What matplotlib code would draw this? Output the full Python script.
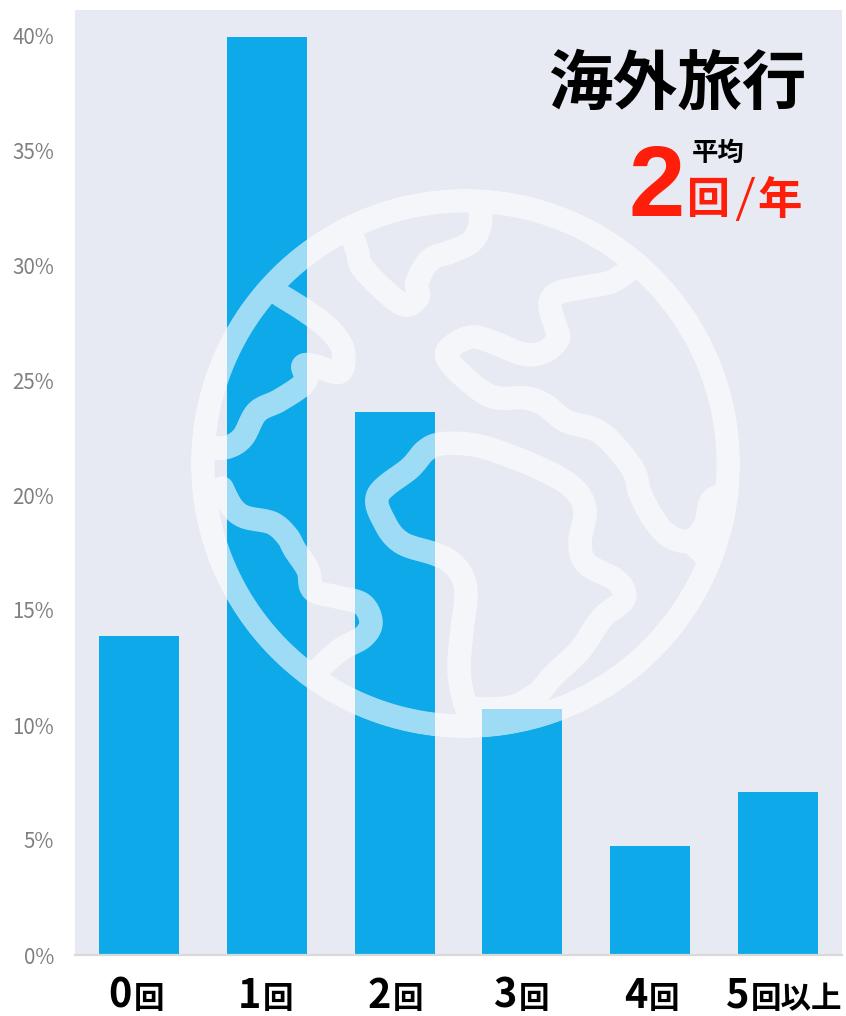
import numpy as np
from matplotlib import pyplot as plt
from matplotlib.path import Path
from matplotlib.patches import PathPatch, Circle
from matplotlib.transforms import Affine2D

plt.rcParams['font.family'] = ['Noto Sans CJK JP', 'DejaVu Sans']
plt.rcParams['path.simplify'] = False

# Values (percent)
counts = ['0', '1', '2', '3', '4', '5']
suffixes = ['回', '回', '回', '回', '回', '回以上']
shares = [13.85, 39.9, 23.6, 10.7, 4.75, 7.1]
y_ticks = [0, 5, 10, 15, 20, 25, 30, 35, 40]

label_shift = [-6, -5, -3, -5, -2, -28]

W, H = 846, 1016
BG = '#E7EAF2'
BAR = '#0EA9E8'
RED = '#FF1E0A'

fig = plt.figure(figsize=(W / 100, H / 100), dpi=100, facecolor='white')
ax = fig.add_axes([75 / W, 1 - 955 / H, 767 / W, 945 / H], facecolor=BG)

ax.bar(range(len(shares)), shares, width=0.626, color=BAR)
ax.set_xlim(-0.5, 5.5)
ax.set_ylim(0, 945 / 23)
ax.set_yticks(y_ticks)
ax.set_yticklabels([f'{t}%' for t in y_ticks], color='#7F7F7F', fontsize=14.8)
ax.set_xticks([])
ax.tick_params(axis='y', length=0, pad=15)
for side in ['top', 'right', 'left']:
    ax.spines[side].set_visible(False)
ax.spines['bottom'].set_color('#D9D9D9')
ax.spines['bottom'].set_linewidth(1.6)

# Category labels: big digit + smaller kanji
for i, (c, s) in enumerate(zip(counts, suffixes)):
    ax.annotate(c, xy=(i, 0), xycoords=('data', 'axes fraction'), xytext=(label_shift[i] - 1, -53),
                textcoords='offset pixels', ha='right', va='baseline', fontsize=28.5, fontweight='bold')
    ax.annotate(s, xy=(i, 0), xycoords=('data', 'axes fraction'), xytext=(label_shift[i] + 1, -53),
                textcoords='offset pixels', ha='left', va='baseline', fontsize=22, fontweight='bold')

# Globe overlay: ring and coastlines as one stroked path, traced in image pixels
px = Affine2D().scale(1 / W, -1 / H).translate(0, 1) + fig.transFigure
CX, CY, R_RING, R_OUT = 465.5, 463.5, 262.75, 274.5

coast_top = [(480, 205), (480, 225), (471, 242), (450, 252), (430, 260), (417, 282), (418, 297),
             (405, 305), (385, 291), (362, 267), (357, 250), (348, 225)]
coast_left_up = [(280, 295), (307, 312), (330, 330), (343, 350), (340, 372), (315, 366), (303, 366),
                 (305, 382), (280, 400), (257, 412), (243, 437), (228, 447), (212, 448)]
coast_left_down = [(222, 488), (232, 507), (245, 517), (272, 523), (287, 536), (295, 550), (308, 570),
                   (313, 590), (337, 597), (362, 604), (371, 622), (363, 637), (340, 650), (320, 668),
                   (310, 680)]
coast_middle = [(530, 705), (552, 677), (580, 650), (602, 618), (624, 599), (617, 581), (587, 564),
                (580, 543), (585, 510), (572, 487), (537, 467), (493, 450), (467, 444), (440, 444),
                (425, 451), (410, 468), (378, 495), (385, 523), (402, 543), (435, 554), (452, 563),
                (463, 578), (466, 597), (462, 630), (459, 670), (464, 700), (472, 720)]
coast_right = [(640, 262), (613, 281), (585, 287), (558, 293), (550, 305), (556, 328), (558, 339),
               (544, 352), (523, 354), (495, 343), (471, 337), (448, 350), (452, 365), (480, 390),
               (498, 398), (526, 398), (545, 405), (566, 421), (601, 433), (632, 468), (640, 493),
               (653, 518), (669, 536), (690, 541), (705, 525), (712, 500), (730, 495)]
coast_tail = [(690, 541), (710, 560)]
coast_fill = [(470, 708), (490, 709), (515, 706), (535, 695)]


def smooth(pts, n=10):
    # Catmull-Rom through the traced points
    p = np.array([pts[0]] + list(pts) + [pts[-1]], float)
    out = [p[1]]
    for i in range(1, len(p) - 2):
        p0, p1, p2, p3 = p[i - 1], p[i], p[i + 1], p[i + 2]
        for s in np.linspace(0, 1, n + 1)[1:]:
            out.append(0.5 * (2 * p1 + (p2 - p0) * s + (2 * p0 - 5 * p1 + 4 * p2 - p3) * s ** 2
                              + (3 * p1 - p0 - 3 * p2 + p3) * s ** 3))
    return np.array(out)


verts, codes = [], []
t = np.linspace(0, 2 * np.pi, 240, endpoint=False)
ring = np.column_stack([CX + R_RING * np.cos(t), CY + R_RING * np.sin(t)])
verts.extend(ring.tolist() + [ring[0].tolist()])
codes.extend([Path.MOVETO] + [Path.LINETO] * (len(ring) - 1) + [Path.CLOSEPOLY])
for line in [coast_top, coast_left_up, coast_left_down, coast_middle, coast_right, coast_tail, coast_fill]:
    c = smooth(line)
    verts.extend(c.tolist())
    codes.extend([Path.MOVETO] + [Path.LINETO] * (len(c) - 1))
globe = PathPatch(Path(verts, codes), fill=False, edgecolor='white', linewidth=23.5 * 0.72, alpha=0.6,
                  joinstyle='round', capstyle='round', transform=px, zorder=5)
fig.add_artist(globe)
# keep the round line ends inside the ring
globe.set_clip_path(Circle((CX, CY), R_OUT, transform=px))

# Title block
fig.text(677.5 / W, 1 - 104 / H, '海外旅行', ha='center', va='baseline', fontsize=46.5, fontweight='bold', zorder=6)
fig.text(718 / W, 1 - 161 / H, '平均', ha='center', va='baseline', fontsize=19, fontweight='bold', zorder=6)
fig.text(656.5 / W, 1 - 216 / H, '2', ha='center', va='baseline', fontsize=73, fontweight='bold',
         family='Liberation Sans', color=RED, zorder=6)
fig.text(708 / W, 1 - 213 / H, '回', ha='center', va='baseline', fontsize=31, fontweight='bold', color=RED, zorder=6)
fig.text(745 / W, 1 - 221 / H, '/', ha='center', va='baseline', fontsize=44, family='Open Sans', fontweight='light',
         color=RED, zorder=6)
fig.text(780 / W, 1 - 214 / H, '年', ha='center', va='baseline', fontsize=32, fontweight='bold', color=RED, zorder=6)

fig.savefig('out.png', dpi=100)
